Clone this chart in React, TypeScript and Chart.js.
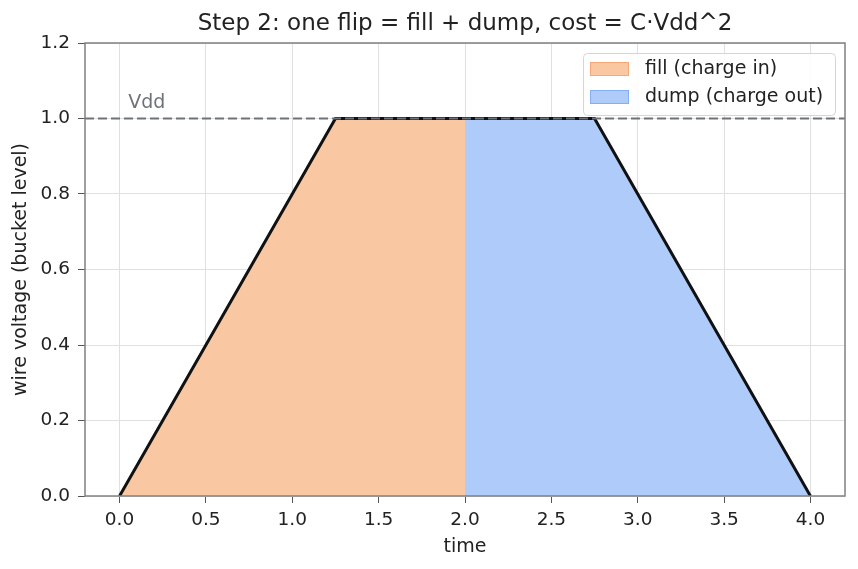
import React, { useEffect, useRef } from "react";
import { Chart, registerables } from "chart.js";

Chart.register(...registerables);

const titleText = "Step 2: one flip = fill + dump, cost = C·Vdd^2";
const xLabel = "time";
const yLabel = "wire voltage (bucket level)";
const fillX = [0, 1.25, 2];
const fillY = [0, 1, 1];
const dumpX = [2, 2.75, 4];
const dumpY = [1, 1, 0];
const outlineX = [0, 1.25, 2.75, 4];
const outlineY = [0, 1, 1, 0];
const vdd = 1.0;
const xRange = [-0.2, 4.2];
const yRange = [0, 1.2];
const xTicks = [0, 0.5, 1, 1.5, 2, 2.5, 3, 3.5, 4];
const yTicks = [0, 0.2, 0.4, 0.6, 0.8, 1.0, 1.2];
const legendLabels = ["fill (charge in)", "dump (charge out)"];
const vddLabel = "Vdd";
const vddLabelPos = [0.05, 1.03];

const FONT = "'DejaVu Sans', sans-serif";
const ORANGE_FILL = "#f9c7a1";
const ORANGE_EDGE = "#f5a877";
const BLUE_FILL = "#afcbf9";
const BLUE_EDGE = "#86aef2";

const pts = (xs: number[], ys: number[]) => xs.map((x, i) => ({ x, y: ys[i] }));

const decorPlugin = {
  id: "decor",
  afterDatasetsDraw(chart: any) {
    const { ctx, chartArea: a, scales } = chart;
    ctx.save();
    // title centred over the plot area
    ctx.fillStyle = "#222";
    ctx.font = `23px ${FONT}`;
    ctx.textAlign = "center";
    ctx.textBaseline = "middle";
    ctx.fillText(titleText, (a.left + a.right) / 2, 24);
    // Vdd label
    ctx.fillStyle = "#6e737b";
    ctx.font = `19px ${FONT}`;
    ctx.textAlign = "left";
    ctx.textBaseline = "alphabetic";
    ctx.fillText(
      vddLabel,
      scales.x.getPixelForValue(vddLabelPos[0]),
      scales.y.getPixelForValue(vddLabelPos[1]) + 1
    );
    // frame
    ctx.strokeStyle = "#808080";
    ctx.lineWidth = 1.5;
    ctx.strokeRect(a.left, a.top, a.right - a.left, a.bottom - a.top);
    // legend
    const bx = a.right - 262;
    const by = a.top + 10;
    const bw = 252;
    const bh = 62;
    ctx.fillStyle = "rgba(255,255,255,0.85)";
    ctx.strokeStyle = "#d5d5d5";
    ctx.lineWidth = 1;
    ctx.beginPath();
    ctx.roundRect(bx + 0.5, by + 0.5, bw, bh, 4);
    ctx.fill();
    ctx.stroke();
    const items = [
      [ORANGE_FILL, ORANGE_EDGE],
      [BLUE_FILL, BLUE_EDGE],
    ];
    ctx.font = `19px ${FONT}`;
    ctx.textBaseline = "middle";
    items.forEach((c, i) => {
      const y = by + 9 + i * 28;
      ctx.fillStyle = c[0];
      ctx.fillRect(bx + 7, y, 39, 14);
      ctx.strokeStyle = c[1];
      ctx.strokeRect(bx + 7.5, y + 0.5, 38, 13);
      ctx.fillStyle = "#222";
      ctx.fillText(legendLabels[i], bx + 62, y + 7);
    });
    ctx.restore();
  },
};

export default function App() {
  const ref = useRef<HTMLCanvasElement>(null);
  useEffect(() => {
    document.body.style.margin = "0";
    const chart = new Chart(ref.current!, {
      type: "line",
      data: {
        datasets: [
          {
            label: legendLabels[0],
            data: pts(fillX, fillY),
            backgroundColor: ORANGE_FILL,
            borderWidth: 0,
            pointRadius: 0,
            fill: "origin",
            tension: 0,
            order: 4,
          },
          {
            label: legendLabels[1],
            data: pts(dumpX, dumpY),
            backgroundColor: BLUE_FILL,
            borderWidth: 0,
            pointRadius: 0,
            fill: "origin",
            tension: 0,
            order: 3,
          },
          {
            label: "outline",
            data: pts(outlineX, outlineY),
            borderColor: "#111111",
            borderWidth: 3,
            pointRadius: 0,
            fill: false,
            tension: 0,
            order: 2,
          },
          {
            label: "vdd",
            data: pts(xRange, [vdd, vdd]),
            borderColor: "#6e737b",
            borderWidth: 2,
            borderDash: [9, 4],
            pointRadius: 0,
            fill: false,
            order: 1,
          },
        ],
      },
      options: {
        responsive: false,
        animation: false,
        layout: { padding: { left: 0, right: 13, top: 43, bottom: 0 } },
        plugins: {
          legend: { display: false },
          tooltip: { enabled: false },
          title: { display: false },
        },
        scales: {
          x: {
            type: "linear",
            min: xRange[0],
            max: xRange[1],
            afterBuildTicks: (s: any) => {
              s.ticks = xTicks.map((v) => ({ value: v }));
            },
            afterFit: (s: any) => {
              s.height = 73;
            },
            ticks: {
              callback: (v: any) => Number(v).toFixed(1),
              color: "#222",
              font: { family: FONT, size: 18.5 },
              padding: 6,
              maxRotation: 0,
              autoSkip: false,
            },
            grid: { color: "#e0e0e0", tickColor: "#555", tickLength: 7 },
            border: { display: false },
            title: {
              display: true,
              text: xLabel,
              color: "#222",
              font: { family: FONT, size: 19 },
              padding: { top: 0, bottom: 11 },
            },
          },
          y: {
            type: "linear",
            min: yRange[0],
            max: yRange[1],
            afterBuildTicks: (s: any) => {
              s.ticks = yTicks.map((v) => ({ value: v }));
            },
            afterFit: (s: any) => {
              s.width = 85;
            },
            ticks: {
              callback: (v: any) => Number(v).toFixed(1),
              color: "#222",
              font: { family: FONT, size: 18.5 },
              padding: 8,
              autoSkip: false,
            },
            grid: { color: "#e0e0e0", tickColor: "#555", tickLength: 7 },
            border: { display: false },
            title: {
              display: true,
              text: yLabel,
              color: "#222",
              font: { family: FONT, size: 19 },
              padding: { top: 10, bottom: 0 },
            },
          },
        },
      },
      plugins: [decorPlugin],
    } as any);
    return () => chart.destroy();
  }, []);
  return <canvas ref={ref} width={858} height={569} style={{ display: "block" }} />;
}
